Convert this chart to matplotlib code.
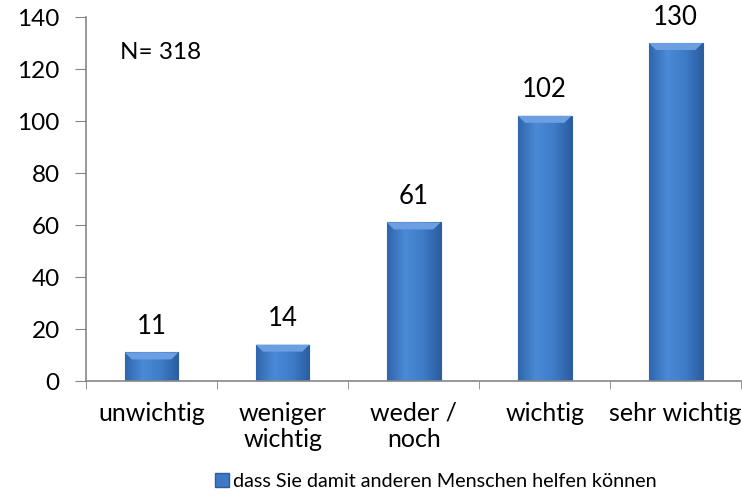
import numpy as np
import matplotlib.pyplot as plt
from matplotlib.colors import LinearSegmentedColormap
from matplotlib.lines import Line2D
from matplotlib.patches import Polygon

categories = ["unwichtig", "weniger\nwichtig", "weder /\nnoch", "wichtig", "sehr wichtig"]
values = [11, 14, 61, 102, 130]
series_name = "dass Sie damit anderen Menschen helfen können"
n_text = "N= 318"

plt.rcParams["font.family"] = ["Lato", "DejaVu Sans"]
plt.rcParams["font.size"] = 18

fig = plt.figure(figsize=(7.42, 4.92), dpi=100)
ax = fig.add_axes([0.116, 0.2256, 0.883, 0.7398])

x = np.arange(len(categories))
bars = ax.bar(x, values, width=0.41, color="#3d79c4", edgecolor="#2c5f9e", linewidth=0.8, zorder=2)

# horizontal shading + a lighter top bevel, to mimic the 3-D look of the original
cmap = LinearSegmentedColormap.from_list("bar", ["#2f66ad", "#4a8ad6", "#3e7cc8", "#2a5d9f"])
grad = np.linspace(0, 1, 256).reshape(1, -1)
bev_x, bev_y = 0.055, 2.7
for b in bars:
    x0, w, h = b.get_x(), b.get_width(), b.get_height()
    im = ax.imshow(grad, cmap=cmap, aspect="auto", extent=[x0, x0 + w, 0, h], zorder=2.5)
    im.set_clip_path(b)
    top = Polygon([[x0, h], [x0 + w, h], [x0 + w - bev_x, h - bev_y], [x0 + bev_x, h - bev_y]],
                  closed=True, facecolor="#6b9fe2", edgecolor="none", zorder=3)
    ax.add_patch(top)

for xi, v in zip(x, values):
    ax.text(xi, v + 10, str(v), ha="center", va="center", fontsize=18.5)

ax.text(-0.24, 126.5, n_text, ha="left", va="center", fontsize=17.5)

ax.set_xlim(-0.5, len(categories) - 0.5)
ax.set_ylim(0, 140)
ax.set_yticks(range(0, 141, 20))
ax.set_xticks(x)
ax.set_xticklabels(categories, va="top", linespacing=1.15)
ax.tick_params(axis="x", length=0, pad=15)
ax.tick_params(axis="y", length=8, color="#868686", pad=11, labelsize=17.5)
ax.set_xticks(np.arange(-0.5, len(categories)), minor=True)
ax.tick_params(axis="x", which="minor", length=6, color="#868686", direction="out")

for s in ["top", "right"]:
    ax.spines[s].set_visible(False)
for s in ["left", "bottom"]:
    ax.spines[s].set_color("#868686")
    ax.spines[s].set_linewidth(1.2)

handle = Line2D([], [], marker="s", linestyle="none", markersize=10,
                markerfacecolor="#3d79c4", markeredgecolor="#2c5f9e")
fig.legend([handle], [series_name], loc="center", bbox_to_anchor=(0.585, 0.022),
           frameon=False, handletextpad=0.05, handlelength=1.0, borderaxespad=0, fontsize=14.2)

fig.savefig("out.png", dpi=100)
